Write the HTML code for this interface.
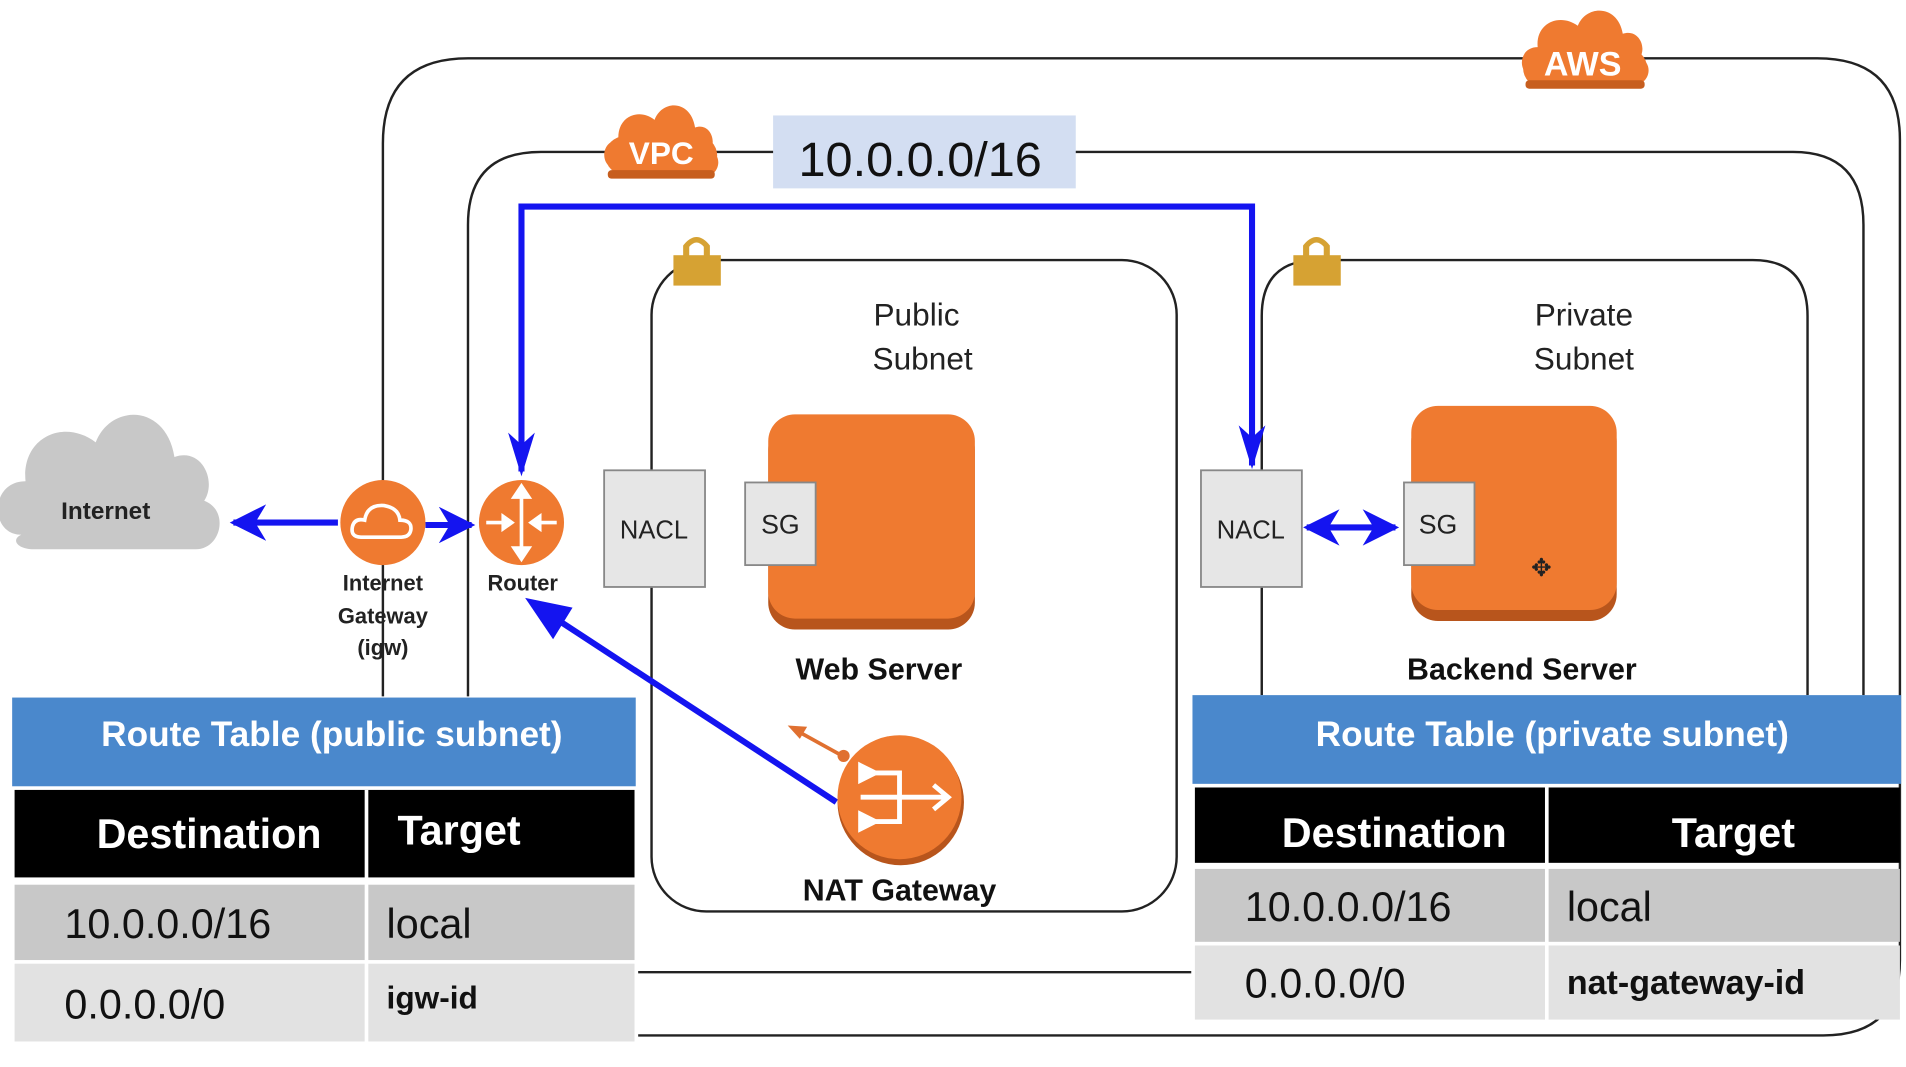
<!DOCTYPE html>
<html><head><meta charset="utf-8"><style>html,body{margin:0;padding:0;background:#fff;overflow:hidden}svg{display:block}text{font-family:"Liberation Sans",sans-serif}</style></head>
<body>
<svg width="1906" height="1067" viewBox="0 0 1568 878" preserveAspectRatio="none" xmlns="http://www.w3.org/2000/svg">
<defs>
<marker id="ah" viewBox="0 0 10 10" refX="9" refY="5" markerWidth="6" markerHeight="6" orient="auto-start-reverse" markerUnits="strokeWidth"><path d="M0,0 L10,5 L0,10 L3,5 z" fill="#1414f0"/></marker>
<g id="cloud"><path d="M10,50 C-5,50 -5,28 12,28 C10,10 30,2 45,12 C52,-4 78,-4 82,18 C95,14 102,28 96,36 C108,40 104,56 92,56 L16,56 C8,56 5,52 10,50z"/></g>
</defs>
<!-- AWS box -->
<path d="M525,852 L1500,852 Q1563,852 1563,790 L1563,115 Q1563,48 1495,48 L385,48 Q315,48 315,118 L315,573" fill="none" stroke="#222" stroke-width="2"/>
<!-- VPC box -->
<path d="M525,800 L980,800 M385,573 L385,185 Q385,125 445,125 L1475,125 Q1533,125 1533,185 L1533,572" fill="none" stroke="#222" stroke-width="2"/>
<!-- AWS cloud -->
<g transform="translate(1253,8) scale(1.0,1.1)" fill="#ef7a30"><use href="#cloud"/></g>
<rect x="1253" y="40" width="102" height="32" rx="16" fill="#ef7a30"/>
<rect x="1255" y="66" width="98" height="7" rx="3" fill="#c75e1e"/>
<text x="1302" y="62" font-size="28" font-weight="bold" fill="#fff" text-anchor="middle">AWS</text>
<!-- VPC cloud -->
<g transform="translate(498,86) scale(0.9,1.05)" fill="#ef7a30"><use href="#cloud"/></g>
<rect x="498" y="112" width="92" height="32" rx="16" fill="#ef7a30"/>
<rect x="500" y="140" width="88" height="7" rx="3" fill="#c75e1e"/>
<text x="544" y="135" font-size="26" font-weight="bold" fill="#fff" text-anchor="middle">VPC</text>
<rect x="636" y="95" width="249" height="60" fill="#d3def2"/>
<text x="757" y="145" font-size="40" fill="#111" text-anchor="middle">10.0.0.0/16</text>
<!-- subnets -->
<rect x="536" y="214" width="432" height="536" rx="45" fill="none" stroke="#222" stroke-width="2"/>
<path d="M1038,572 L1038,260 Q1038,214 1084,214 L1442,214 Q1487,214 1487,260 L1487,572" fill="none" stroke="#222" stroke-width="2"/>
<g fill="#d6a233"><rect x="554" y="210" width="39" height="25"/><path d="M562,212 L562,202 Q573,188 584,202 L584,212 L579,212 L579,203 Q573,196 567,203 L567,212z"/></g>
<g fill="#d6a233"><rect x="1064" y="210" width="39" height="25"/><path d="M1072,212 L1072,202 Q1083,188 1094,202 L1094,212 L1089,212 L1089,203 Q1083,196 1077,203 L1077,212z"/></g>
<text x="754" y="268" font-size="26" fill="#222" text-anchor="middle">Public</text>
<text x="759" y="304" font-size="26" fill="#222" text-anchor="middle">Subnet</text>
<text x="1303" y="268" font-size="26" fill="#222" text-anchor="middle">Private</text>
<text x="1303" y="304" font-size="26" fill="#222" text-anchor="middle">Subnet</text>
<!-- servers -->
<rect x="632" y="348" width="170" height="170" rx="22" fill="#b8551c"/>
<rect x="632" y="341" width="170" height="168" rx="22" fill="#ef7a30"/>
<rect x="613" y="397" width="58" height="68" fill="#e6e6e6" stroke="#888" stroke-width="1.5"/>
<text x="642" y="439" font-size="22" fill="#222" text-anchor="middle">SG</text>
<rect x="1161" y="341" width="169" height="170" rx="22" fill="#b8551c"/>
<rect x="1161" y="334" width="169" height="168" rx="22" fill="#ef7a30"/>
<rect x="1155" y="397" width="58" height="68" fill="#e6e6e6" stroke="#888" stroke-width="1.5"/>
<text x="1183" y="439" font-size="22" fill="#222" text-anchor="middle">SG</text>
<text x="1268" y="474" font-size="20" fill="#222" text-anchor="middle">✥</text>
<text x="723" y="559" font-size="25" font-weight="bold" fill="#111" text-anchor="middle">Web Server</text>
<text x="1252" y="559" font-size="25" font-weight="bold" fill="#111" text-anchor="middle">Backend Server</text>
<!-- NACL -->
<rect x="497" y="387" width="83" height="96" fill="#e6e6e6" stroke="#888" stroke-width="1.5"/>
<text x="538" y="443" font-size="21" fill="#222" text-anchor="middle">NACL</text>
<rect x="988" y="387" width="83" height="96" fill="#e6e6e6" stroke="#888" stroke-width="1.5"/>
<text x="1029" y="443" font-size="21" fill="#222" text-anchor="middle">NACL</text>
<!-- blue lines -->
<path d="M429,388 L429,170 L1030,170 L1030,383" fill="none" stroke="#1414f0" stroke-width="5"/>
<path d="M418,356 L429,392 L440,356 L429,366z" fill="#1414f0"/>
<path d="M1019,350 L1030,386 L1041,350 L1030,360z" fill="#1414f0"/>
<line x1="1075" y1="434" x2="1148" y2="434" stroke="#1414f0" stroke-width="5" marker-start="url(#ah)" marker-end="url(#ah)"/>
<!-- internet -->
<g transform="translate(0,340) scale(1.75,2.0)" fill="#c8c8c8"><use href="#cloud"/></g>
<text x="87" y="427" font-size="20" font-weight="bold" fill="#222" text-anchor="middle">Internet</text>
<line x1="278" y1="430" x2="192" y2="430" stroke="#1414f0" stroke-width="5" marker-end="url(#ah)"/>
<line x1="350" y1="432" x2="388" y2="432" stroke="#1414f0" stroke-width="5" marker-end="url(#ah)"/>
<circle cx="315" cy="430" r="35" fill="#ef7a30"/>
<path d="M297,442 Q288,442 290,433 Q292,426 300,428 Q302,415 316,416 Q328,418 329,428 Q339,428 338,436 Q337,442 330,442z" fill="none" stroke="#fff" stroke-width="3"/>
<circle cx="429" cy="430" r="35" fill="#ef7a30"/>
<g stroke="#fff" stroke-width="3" fill="#fff"><line x1="429" y1="402" x2="429" y2="458"/><path d="M423,409 L429,400 L435,409z"/><path d="M423,451 L429,460 L435,451z"/><line x1="400" y1="430" x2="420" y2="430"/><path d="M414,425 L421,430 L414,435z"/><line x1="438" y1="430" x2="458" y2="430"/><path d="M444,425 L437,430 L444,435z"/></g>
<text x="315" y="486" font-size="18" font-weight="bold" fill="#222" text-anchor="middle">Internet</text>
<text x="315" y="513" font-size="18" font-weight="bold" fill="#222" text-anchor="middle">Gateway</text>
<text x="315" y="539" font-size="18" font-weight="bold" fill="#222" text-anchor="middle">(igw)</text>
<text x="430" y="486" font-size="18" font-weight="bold" fill="#222" text-anchor="middle">Router</text>
<!-- NAT -->
<line x1="688" y1="660" x2="448" y2="503" stroke="#1414f0" stroke-width="5"/>
<path d="M432,492 L471,500 L455,526z" fill="#1414f0"/>
<line x1="693" y1="622" x2="655" y2="601" stroke="#e07030" stroke-width="3"/>
<path d="M648,597 L664,598 L658,608z" fill="#e07030"/><circle cx="694" cy="622" r="5" fill="#e07030"/>
<circle cx="741" cy="660" r="52" fill="#b8551c"/>
<circle cx="740" cy="656" r="51" fill="#ef7a30"/>
<g stroke="#fff" stroke-width="4" fill="none"><path d="M708,636 L740,636 L740,676 L708,676 M708,656 L778,656 M768,646 L780,656 L768,666"/><path d="M708,630 L720,636 L708,642z M708,670 L720,676 L708,682z" fill="#fff"/></g>
<text x="740" y="741" font-size="25" font-weight="bold" fill="#111" text-anchor="middle">NAT Gateway</text>
<!-- public route table -->
<rect x="10" y="574" width="513" height="73" fill="#4a88cc"/>
<text x="273" y="614" font-size="29" font-weight="bold" fill="#fff" text-anchor="middle">Route Table (public subnet)</text>
<rect x="12" y="650" width="510" height="72" fill="#000"/>
<rect x="300" y="650" width="3" height="207" fill="#fff"/>
<text x="172" y="698" font-size="34" font-weight="bold" fill="#fff" text-anchor="middle">Destination</text>
<text x="327" y="695" font-size="34" font-weight="bold" fill="#fff">Target</text>
<rect x="12" y="728" width="288" height="62" fill="#c8c8c8"/><rect x="303" y="728" width="219" height="62" fill="#c8c8c8"/>
<rect x="12" y="793" width="288" height="64" fill="#e2e2e2"/><rect x="303" y="793" width="219" height="64" fill="#e2e2e2"/>
<text x="53" y="772" font-size="34" fill="#111">10.0.0.0/16</text>
<text x="318" y="772" font-size="34" fill="#111">local</text>
<text x="53" y="838" font-size="34" fill="#111">0.0.0.0/0</text>
<text x="318" y="830" font-size="26" font-weight="bold" fill="#111">igw-id</text>
<!-- private route table -->
<rect x="981" y="572" width="583" height="73" fill="#4a88cc"/>
<text x="1277" y="614" font-size="29" font-weight="bold" fill="#fff" text-anchor="middle">Route Table (private subnet)</text>
<rect x="983" y="648" width="580" height="62" fill="#000"/>
<rect x="1271" y="648" width="3" height="191" fill="#fff"/>
<text x="1147" y="697" font-size="34" font-weight="bold" fill="#fff" text-anchor="middle">Destination</text>
<text x="1426" y="697" font-size="34" font-weight="bold" fill="#fff" text-anchor="middle">Target</text>
<rect x="983" y="715" width="288" height="60" fill="#c8c8c8"/><rect x="1274" y="715" width="289" height="60" fill="#c8c8c8"/>
<rect x="983" y="778" width="288" height="61" fill="#e2e2e2"/><rect x="1274" y="778" width="289" height="61" fill="#e2e2e2"/>
<text x="1024" y="758" font-size="34" fill="#111">10.0.0.0/16</text>
<text x="1289" y="758" font-size="34" fill="#111">local</text>
<text x="1024" y="821" font-size="34" fill="#111">0.0.0.0/0</text>
<text x="1289" y="818" font-size="28" font-weight="bold" fill="#111">nat-gateway-id</text>
</svg>
</body></html>
